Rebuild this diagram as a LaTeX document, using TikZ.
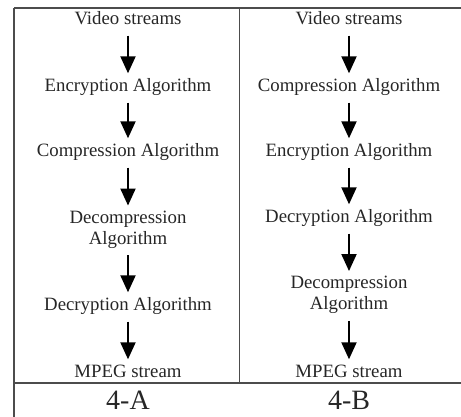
\documentclass[tikz,border=0pt]{standalone}
\usepackage{fontspec}
\setmainfont{Liberation Serif}
\usetikzlibrary{arrows.meta}
\begin{document}
\begin{tikzpicture}[x=1pt,y=-1pt,
  lbl/.style={font=\fontsize{18.8}{21}\selectfont, text=black!85, inner xsep=0pt, inner ysep=0pt, text height=13pt, text depth=4pt},
  lbltwo/.style={font=\fontsize{18.8}{21}\selectfont, text=black!85, inner xsep=0pt, inner ysep=0pt, align=center},
  big/.style={font=\fontsize{28}{30}\selectfont, text=black!85, inner sep=0pt},
  arr/.style={line width=2pt, -{Triangle[width=15pt,length=17pt]}, shorten <=7pt, shorten >=5pt},
  frame/.style={line width=1.3pt, draw=black!70}]
\useasboundingbox (0,0) rectangle (461,417);
% frame
\draw[frame] (14,8) -- (461,8);
\draw[frame] (14,8) -- (14,417);
\draw[frame] (239.5,8) -- (239.5,383);
\draw[frame] (14,383) -- (461,383);
% left column
\node[lbl] (a1) at (128,20) {Video streams};
\node[lbl] (a2) at (128,87) {Encryption Algorithm};
\node[lbl] (a3) at (128,152) {Compression Algorithm};
\node[lbltwo] (a4) at (128,229.5) {Decompression\\Algorithm};
\node[lbl] (a5) at (128,306) {Decryption Algorithm};
\node[lbl] (a6) at (128,373) {MPEG stream};
\draw[arr] (a1) -- (a2);
\draw[arr] (a2) -- (a3);
\draw[arr] (a3) -- (a4);
\draw[arr] (a4) -- (a5);
\draw[arr] (a5) -- (a6);
\node[big] (la) at (128,400) {4-A};
% right column
\node[lbl] (b1) at (349,20) {Video streams};
\node[lbl] (b2) at (349,87) {Compression Algorithm};
\node[lbl] (b3) at (349,152) {Encryption Algorithm};
\node[lbl] (b4) at (349,218) {Decryption Algorithm};
\node[lbltwo] (b5) at (349,295) {Decompression\\Algorithm};
\node[lbl] (b6) at (349,373) {MPEG stream};
\draw[arr] (b1) -- (b2);
\draw[arr] (b2) -- (b3);
\draw[arr] (b3) -- (b4);
\draw[arr] (b4) -- (b5);
\draw[arr] (b5) -- (b6);
\node[big] (lb) at (349,400) {4-B};
\end{tikzpicture}
\end{document}
